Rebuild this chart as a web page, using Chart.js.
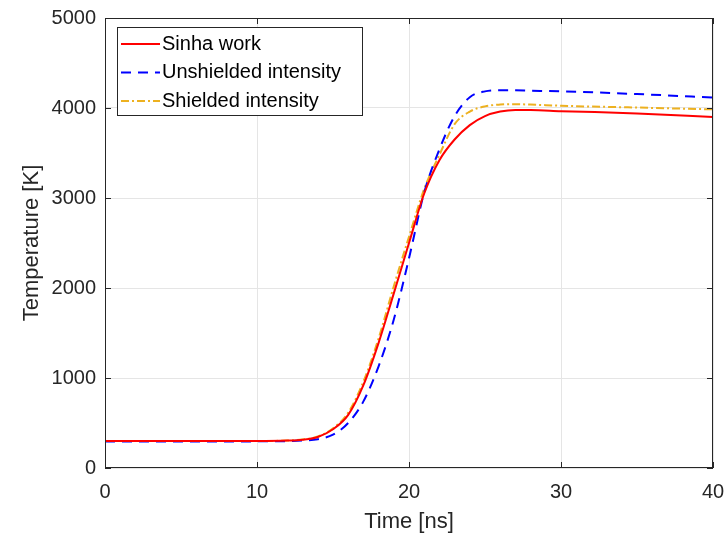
<!DOCTYPE html>
<html>
<head>
<meta charset="utf-8">
<script src="https://cdn.jsdelivr.net/npm/chart.js@4.4.1/dist/chart.umd.min.js"></script>
<style>
  html, body { margin: 0; padding: 0; background: #ffffff; }
  #wrap { width: 727px; height: 543px; position: relative; }
</style>
</head>
<body>
<div id="wrap"><canvas id="tempChart"></canvas></div>
<script>
// time samples [ns]
const times = [0, 5, 10, 12, 13, 14, 15, 16, 17, 18, 19, 20, 21, 22, 23, 24, 25, 26, 27, 28, 30, 35, 40];

// temperature [K]
const sinhaWork = [300, 300, 300, 305, 315, 345, 430, 590, 920, 1390, 1940, 2500, 3050, 3420, 3650, 3810, 3910, 3960, 3978, 3978, 3965, 3940, 3900];
const unshielded = [295, 295, 296, 298, 305, 320, 370, 500, 740, 1130, 1650, 2330, 3060, 3540, 3910, 4120, 4185, 4198, 4196, 4192, 4185, 4155, 4115];
const shielded = [300, 300, 300, 305, 318, 350, 440, 615, 960, 1440, 2020, 2570, 3100, 3480, 3820, 3960, 4018, 4038, 4042, 4038, 4025, 4005, 3985];

const seriesNames = ['Sinha work', 'Unshielded intensity', 'Shielded intensity'];
const xTicks = [0, 10, 20, 30, 40];
const yTicks = [0, 1000, 2000, 3000, 4000, 5000];

const axisColor = '#262626';
const fontFamily = '"Liberation Sans", Arial, Helvetica, sans-serif';

function toPoints(values) {
    return times.map((t, i) => ({ x: t, y: values[i] }));
}

// MATLAB-style box, inward ticks and legend inside the axes
const matlabBox = {
    id: 'matlabBox',
    afterDraw(chart) {
        const ctx = chart.ctx;
        const a = chart.chartArea;
        const xs = chart.scales.x, ys = chart.scales.y;
        ctx.save();
        ctx.strokeStyle = axisColor;
        ctx.lineWidth = 1;
        ctx.strokeRect(a.left + 0.5, a.top + 0.5, a.right - a.left - 1, a.bottom - a.top - 1);
        const tl = 6;
        ctx.beginPath();
        xTicks.forEach(v => {
            const px = Math.round(xs.getPixelForValue(v)) + 0.5;
            ctx.moveTo(px, a.bottom); ctx.lineTo(px, a.bottom - tl);
            ctx.moveTo(px, a.top); ctx.lineTo(px, a.top + tl);
        });
        yTicks.forEach(v => {
            const py = Math.round(ys.getPixelForValue(v)) + 0.5;
            ctx.moveTo(a.left, py); ctx.lineTo(a.left + tl, py);
            ctx.moveTo(a.right, py); ctx.lineTo(a.right - tl, py);
        });
        ctx.stroke();

        // legend
        const bx = 117, by = 27, bw = 245, bh = 88;
        ctx.fillStyle = '#ffffff';
        ctx.fillRect(bx, by, bw, bh);
        ctx.strokeStyle = axisColor;
        ctx.strokeRect(bx + 0.5, by + 0.5, bw, bh);
        ctx.font = '20px ' + fontFamily;
        ctx.textBaseline = 'middle';
        chart.data.datasets.forEach((ds, i) => {
            const y = by + 17 + i * 28.5;
            ctx.strokeStyle = ds.borderColor;
            ctx.lineWidth = ds.borderWidth;
            ctx.setLineDash(ds.borderDash || []);
            ctx.beginPath();
            ctx.moveTo(bx + 4, y); ctx.lineTo(bx + 43, y);
            ctx.stroke();
            ctx.setLineDash([]);
            ctx.fillStyle = '#000000';
            ctx.fillText(ds.label, bx + 45, y);
        });
        ctx.restore();
    }
};

const ctx = document.getElementById('tempChart').getContext('2d');
const tempChart = new Chart(ctx, {
    type: 'line',
    data: {
        datasets: [{
            label: seriesNames[0],
            data: toPoints(sinhaWork),
            borderColor: '#ff0000',
            borderWidth: 2,
            pointRadius: 0,
            cubicInterpolationMode: 'monotone',
            fill: false
        }, {
            label: seriesNames[1],
            data: toPoints(unshielded),
            borderColor: '#0000ff',
            borderWidth: 2,
            borderDash: [10, 7],
            pointRadius: 0,
            cubicInterpolationMode: 'monotone',
            fill: false
        }, {
            label: seriesNames[2],
            data: toPoints(shielded),
            borderColor: '#edb120',
            borderWidth: 2,
            borderDash: [8, 3, 2, 3],
            pointRadius: 0,
            cubicInterpolationMode: 'monotone',
            fill: false
        }]
    },
    options: {
        responsive: true,
        maintainAspectRatio: false,
        animation: false,
        layout: { padding: { top: 18, right: 14, left: 0, bottom: 0 } },
        plugins: {
            legend: { display: false },
            tooltip: { enabled: false }
        },
        scales: {
            x: {
                type: 'linear',
                min: 0, max: 40,
                afterBuildTicks: s => { s.ticks = xTicks.map(v => ({ value: v })); },
                afterFit: s => { s.height = 75; s.paddingLeft = 0; s.paddingRight = 0; },
                grid: { color: '#e5e5e5', tickLength: 0, drawTicks: false },
                border: { display: false },
                ticks: { color: axisColor, font: { size: 20, family: fontFamily }, padding: 12, maxRotation: 0 },
                title: { display: true, text: 'Time [ns]', color: axisColor, font: { size: 22, family: fontFamily }, padding: { top: 0, bottom: 8 } }
            },
            y: {
                min: 0, max: 5000,
                afterBuildTicks: s => { s.ticks = yTicks.map(v => ({ value: v })); },
                afterFit: s => { s.width = 105; s.paddingTop = 0; s.paddingBottom = 0; },
                grid: { color: '#e5e5e5', tickLength: 0, drawTicks: false },
                border: { display: false },
                ticks: { color: axisColor, font: { size: 20, family: fontFamily }, padding: 9, callback: v => String(v) },
                title: { display: true, text: 'Temperature [K]', color: axisColor, font: { size: 22, family: fontFamily }, padding: { top: 19, bottom: 0 } }
            }
        }
    },
    plugins: [matlabBox]
});
</script>
</body>
</html>
